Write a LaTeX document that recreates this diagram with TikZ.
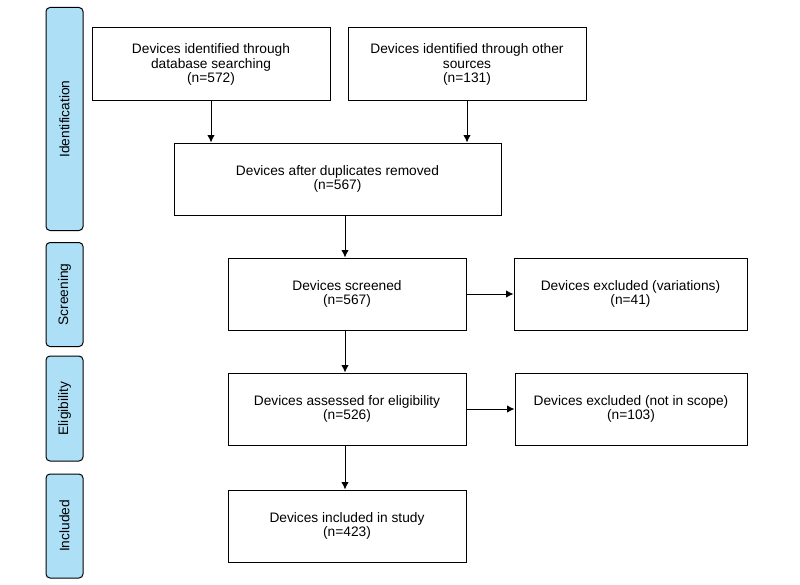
\documentclass[tikz,border=0pt]{standalone}
\usepackage{fontspec}
\setmainfont{Liberation Sans}
\usepackage{xcolor}
\usepackage{tikz}
\usetikzlibrary{calc}
\usetikzlibrary{shapes,arrows.meta}
\definecolor{phaseblue}{RGB}{173,224,247}
\def\px{0.75pt}
\tikzstyle{box} = [draw, line width=1*\px, rectangle, align=center, inner sep=2*\px,
	font=\fontsize{10.3}{10.6}\selectfont]
\tikzstyle{phase} = [draw, line width=1*\px, rectangle, rounded corners=4*\px, fill=phaseblue,
	rotate=90, minimum height=37*\px, inner sep=0pt, font=\fontsize{10.3}{10.6}\selectfont]
\tikzstyle{line} = [draw, line width=1*\px, -{Latex[length=7.5*\px,width=7.5*\px]}]

\begin{document}
\begin{tikzpicture}[x=0.75pt,y=-0.75pt]
	\useasboundingbox (0,0) rectangle (800,585);

	% phases
	\node[phase, minimum width=223*\px] (ident) at (64.5,119) {Identification};
	\node[phase, minimum width=104*\px] (screen) at (64.5,294.5) {Screening};
	\node[phase, minimum width=105*\px] (elig) at (64.5,408.5) {Eligibility};
	\node[phase, minimum width=104*\px] (incl) at (64.5,526) {Included};

	% boxes
	\node[box, minimum width=238*\px, minimum height=73*\px] (database) at (211,64.5)
		{Devices identified through\\database searching\\(n=572)};
	\node[box, minimum width=238*\px, minimum height=73*\px] (other) at (467,64.5)
		{Devices identified through other\\sources\\(n=131)};
	\node[box, minimum width=327*\px, minimum height=72*\px] (dups) at (337.5,179)
		{Devices after duplicates removed\\(n=567)};
	\node[box, minimum width=238*\px, minimum height=72*\px] (screened) at (347,294)
		{Devices screened\\(n=567)};
	\node[box, minimum width=233*\px, minimum height=72*\px] (exclvar) at (630.5,294)
		{Devices excluded (variations)\\(n=41)};
	\node[box, minimum width=238*\px, minimum height=72*\px] (assessed) at (347,409)
		{Devices assessed for eligibility\\(n=526)};
	\node[box, minimum width=232*\px, minimum height=72*\px] (exclscope) at (631,409)
		{Devices excluded (not in scope)\\(n=103)};
	\node[box, minimum width=238*\px, minimum height=72*\px] (included) at (347,526)
		{Devices included in study\\(n=423)};

	% arrows
	\path[line] (database.south) -- (database.south |- dups.north);
	\path[line] (other.south) -- (other.south |- dups.north);
	\path[line] ($(dups.south)+(7.5,0)$) -- ($(screened.north)+(-2,0)$);
	\path[line] (screened.east) -- (exclvar.west);
	\path[line] (assessed.east) -- (exclscope.west);
	\path[line] ($(screened.south)+(-2,0)$) -- ($(assessed.north)+(-2,0)$);
	\path[line] ($(assessed.south)+(-2,0)$) -- ($(included.north)+(-2,0)$);
\end{tikzpicture}
\end{document}
